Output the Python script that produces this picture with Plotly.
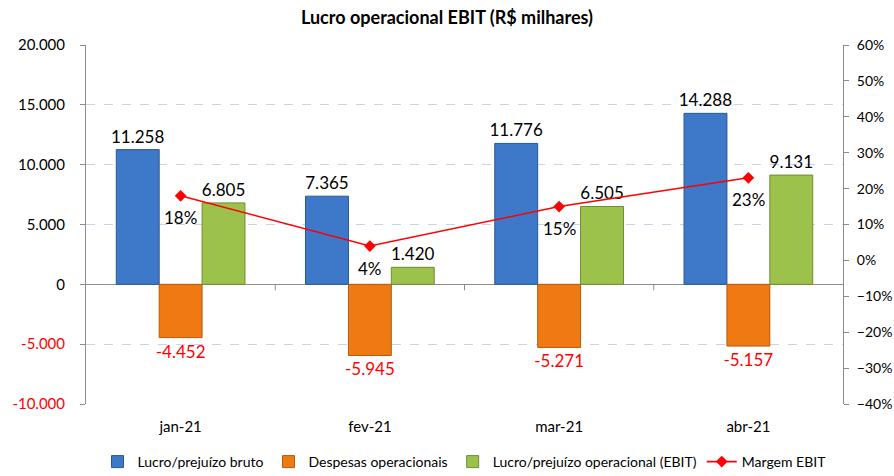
import plotly.graph_objects as go

categories = ["jan-21", "fev-21", "mar-21", "abr-21"]
lucro_bruto = [11258, 7365, 11776, 14288]
despesas = [-4452, -5945, -5271, -5157]
ebit = [6805, 1420, 6505, 9131]
margem = [0.18, 0.04, 0.15, 0.23]

left_ticks = [-10000, -5000, 0, 5000, 10000, 15000, 20000]
right_ticks = [-0.4, -0.3, -0.2, -0.1, 0.0, 0.1, 0.2, 0.3, 0.4, 0.5, 0.6]

FONT = "Lato"


def fmt(v):
    s = f"{abs(v):,}".replace(",", ".")
    return ("-" + s) if v < 0 else s


def tick_txt(v):
    t = fmt(v)
    return f'<span style="color:#FF0000">{t}</span>' if v < 0 else t


def lab_colors(vals):
    return ["#FF0000" if v < 0 else "#000000" for v in vals]


fig = go.Figure()
series = [
    ("Lucro/prejuízo bruto", lucro_bruto, "#3D78C9", "#2B5796"),
    ("Despesas operacionais", despesas, "#EF7A14", "#B45A0C"),
    ("Lucro/prejuízo operacional (EBIT)", ebit, "#9CC24B", "#6E8E30"),
]
for name, vals, col, edge in series:
    fig.add_trace(go.Bar(
        x=categories, y=vals, name=name,
        marker=dict(color=col, line=dict(color=edge, width=1)),
        text=[fmt(v) for v in vals], textposition="outside",
        constraintext="none",
        textfont=dict(family=FONT, size=17, color=lab_colors(vals)),
        cliponaxis=False,
    ))

fig.add_trace(go.Scatter(
    x=categories, y=margem, name="Margem EBIT", yaxis="y2",
    mode="lines+markers",
    line=dict(color="#FF0000", width=1.6),
    marker=dict(symbol="diamond", size=9, color="#FF0000"),
    cliponaxis=False,
))

# percentage labels below the line markers
for c, v in zip(categories, margem):
    fig.add_annotation(x=c, y=v, xref="x", yref="y2",
                       text=f"{round(v*100)}%", showarrow=False,
                       yshift=-22, font=dict(family=FONT, size=17, color="#000000"))

# category boundary tick marks on the zero line
for b in [0.5, 1.5, 2.5]:
    fig.add_shape(type="line", xref="x", yref="y", x0=b, x1=b,
                  ysizemode="pixel", yanchor=0, y0=0, y1=-6,
                  line=dict(color="#8C8C8C", width=1))

fig.update_layout(
    width=894, height=476,
    margin=dict(l=86, r=51, t=45, b=72, autoexpand=False),
    paper_bgcolor="white", plot_bgcolor="white",
    font=dict(family=FONT, size=15, color="#000000"),
    title=dict(text="<b>Lucro operacional EBIT (R$ milhares)</b>",
               x=0.5, xanchor="center", y=1 - 18 / 476, yanchor="middle",
               font=dict(family=FONT, size=18, color="#000000")),
    barmode="group", bargap=0.32, bargroupgap=0.0,
    showlegend=True,
    legend=dict(orientation="h", x=0.5, xanchor="center",
                yref="container", y=1 - 462 / 476, yanchor="middle",
                font=dict(family=FONT, size=14), traceorder="normal",
                itemwidth=30, tracegroupgap=0),
    xaxis=dict(showline=False, showgrid=False, ticks="",
               tickfont=dict(family=FONT, size=15),
               ticklabelstandoff=12),
    yaxis=dict(range=[-10000, 20000], tickvals=left_ticks,
               ticktext=[tick_txt(v) for v in left_ticks],
               showgrid=True, gridcolor="#C5D3EC", griddash="dash", gridwidth=1,
               zeroline=True, zerolinecolor="#8C8C8C", zerolinewidth=1,
               showline=True, linecolor="#8C8C8C", linewidth=1,
               ticks="outside", ticklen=5, tickcolor="#8C8C8C",
               tickfont=dict(family=FONT, size=15), ticklabelstandoff=12),
    yaxis2=dict(range=[-0.4, 0.6], tickvals=right_ticks, tickformat=".0%",
                overlaying="y", side="right", showgrid=False, zeroline=False,
                showline=True, linecolor="#8C8C8C", linewidth=1,
                ticks="outside", ticklen=5, tickcolor="#8C8C8C",
                tickfont=dict(family=FONT, size=14), ticklabelstandoff=5),
)

fig.write_html("out.html", config={"displayModeBar": False},
               post_script="document.body.style.margin='0';")
